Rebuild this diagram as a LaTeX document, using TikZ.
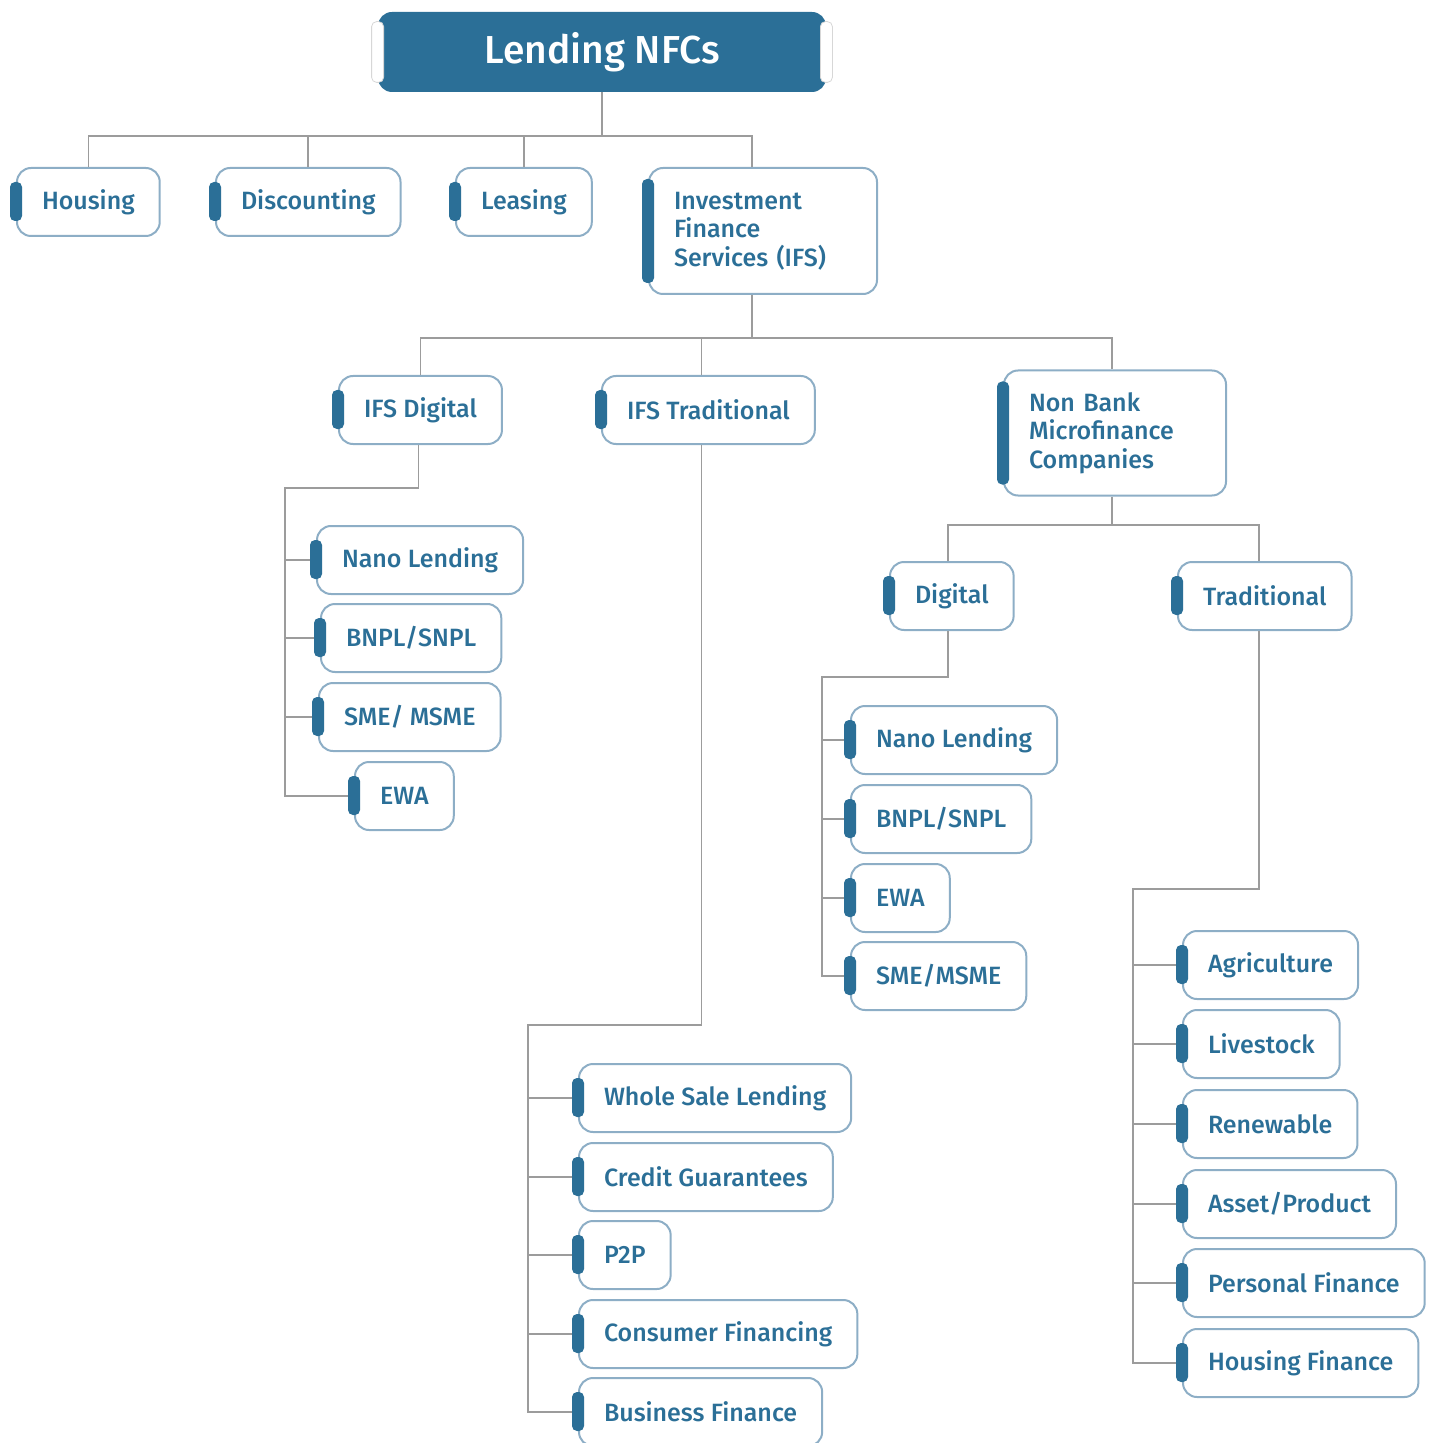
\documentclass[tikz,border=0pt]{standalone}
\usepackage{fontspec}
\setmainfont{Fira Sans}[BoldFont={* Medium}]
\definecolor{nfcblue}{HTML}{2B6F97}
\definecolor{nfcedge}{HTML}{8DAEC6}
\definecolor{nfcline}{HTML}{9C9C9C}
\usetikzlibrary{positioning,calc}

\begin{document}
\begin{tikzpicture}[
x=0.5pt, y=-0.5pt,
leaf/.style={rectangle, draw=nfcedge, line width=1pt, rounded corners=7pt, fill=white,
  text=nfcblue, font=\fontsize{12.5}{14.25}\selectfont\bfseries, inner xsep=12.5pt,
  minimum height=34pt, anchor=west},
multi/.style={leaf, align=left, text width=#1},
head/.style={rectangle, fill=nfcblue, rounded corners=7pt, text=white,
  font=\fontsize{19.5}{21}\selectfont\bfseries, minimum width=224pt, minimum height=40pt},
link/.style={draw=nfcline, line width=0.8pt},
tab/.style={fill=nfcblue, rounded corners=2.5pt}
]
\useasboundingbox (0,0) rectangle (1437,1443);

% root
\node (root) [head] at (602,52) {Lending NFCs};
\foreach \s in {west,east}
  \fill[white, draw=nfcline!40, line width=0.4pt, rounded corners=2.5pt]
    ([xshift=-3pt,yshift=-5pt]root.north \s) rectangle ([xshift=3pt,yshift=5pt]root.south \s);

% first level
\node (housing) [leaf] at (16,202) {Housing};
\node (disc) [leaf] at (215,202) {Discounting};
\node (leas) [leaf] at (455,202) {Leasing};
\node (ifs) [multi=89pt, minimum height=63pt] at (648,231) {Investment\\Finance\\Services (IFS)};

% second level
\node (ifsd) [leaf] at (338,410) {IFS Digital};
\node (ifst) [leaf] at (601,410) {IFS Traditional};
\node (nbmc) [multi=86pt, minimum height=62.5pt] at (1003,433) {Non Bank\\Microfinance\\Companies};

% IFS digital
\node (dnano) [leaf] at (316,560) {Nano Lending};
\node (dbnpl) [leaf] at (320,638) {BNPL/SNPL};
\node (dsme) [leaf] at (318,717) {SME/ MSME};
\node (dewa) [leaf] at (354,796) {EWA};

% IFS traditional
\node (twhole) [leaf] at (578,1098) {Whole Sale Lending};
\node (tcred) [leaf] at (578,1177) {Credit Guarantees};
\node (tp2p) [leaf] at (578,1255) {P2P};
\node (tcons) [leaf] at (578,1334) {Consumer Financing};
\node (tbus) [leaf] at (578,1412) {Business Finance};

% NBMC
\node (mdig) [leaf] at (889,596) {Digital};
\node (mtrad) [leaf] at (1177,596) {Traditional};

\node (gnano) [leaf] at (850,740) {Nano Lending};
\node (gbnpl) [leaf] at (850,819) {BNPL/SNPL};
\node (gewa) [leaf] at (850,898) {EWA};
\node (gsme) [leaf] at (850,976) {SME/MSME};

\node (ragri) [leaf] at (1182,965) {Agriculture};
\node (rlive) [leaf] at (1182,1044) {Livestock};
\node (rrenew) [leaf] at (1182,1124) {Renewable};
\node (rasset) [leaf] at (1182,1204) {Asset/Product};
\node (rpers) [leaf] at (1182,1283) {Personal Finance};
\node (rhous) [leaf] at (1182,1363) {Housing Finance};

% connectors
\coordinate (j0) at (602,136);
\coordinate (j1) at (752,338);
\coordinate (j2) at (1112,525);
\draw[link] (root.south) -- (j0);
\foreach \n in {housing,disc,leas}
  \draw[link] (\n.north) |- (j0);
\draw[link] (ifs.north -| j1) |- (j0);
\draw[link] (ifs.south -| j1) -- (j1);
\draw[link] (ifsd.north) |- (j1);
\draw[link] ([xshift=-3.5pt]ifst.north) |- (j1);
\draw[link] (nbmc.north -| j2) |- (j1);
\draw[link] (nbmc.south -| j2) -- (j2);
\draw[link] ([xshift=-2pt]mdig.north) |- (j2);
\draw[link] ([xshift=-3pt]mtrad.north) |- (j2);

\coordinate (s1) at (285,488);
\draw[link] ([xshift=-1pt]ifsd.south) |- (s1) |- (dewa.west);
\foreach \n in {dnano,dbnpl,dsme}
  \draw[link] (s1 |- \n.west) -- (\n.west);

\coordinate (s2) at (528,1025);
\draw[link] ([xshift=-3.5pt]ifst.south) |- (s2) |- (tbus.west);
\foreach \n in {twhole,tcred,tp2p,tcons}
  \draw[link] (s2 |- \n.west) -- (\n.west);

\coordinate (s3) at (822,677);
\draw[link] ([xshift=-2pt]mdig.south) |- (s3) |- (gsme.west);
\foreach \n in {gnano,gbnpl,gewa}
  \draw[link] (s3 |- \n.west) -- (\n.west);

\coordinate (s4) at (1133,889);
\draw[link] ([xshift=-3pt]mtrad.south) |- (s4) |- (rhous.west);
\foreach \n in {ragri,rlive,rrenew,rasset,rpers}
  \draw[link] (s4 |- \n.west) -- (\n.west);

% left tabs
\foreach \n in {housing,disc,leas,ifsd,ifst,dnano,dbnpl,dsme,dewa,twhole,tcred,tp2p,tcons,tbus,
  mdig,mtrad,gnano,gbnpl,gewa,gsme,ragri,rlive,rrenew,rasset,rpers,rhous}
  \fill[tab] ([xshift=-3pt,yshift=-7.5pt]\n.north west) rectangle ([xshift=3pt,yshift=8pt]\n.south west);
\foreach \n in {ifs,nbmc}
  \fill[tab] ([xshift=-3pt,yshift=-6pt]\n.north west) rectangle ([xshift=3pt,yshift=6pt]\n.south west);
\end{tikzpicture}
\end{document}
